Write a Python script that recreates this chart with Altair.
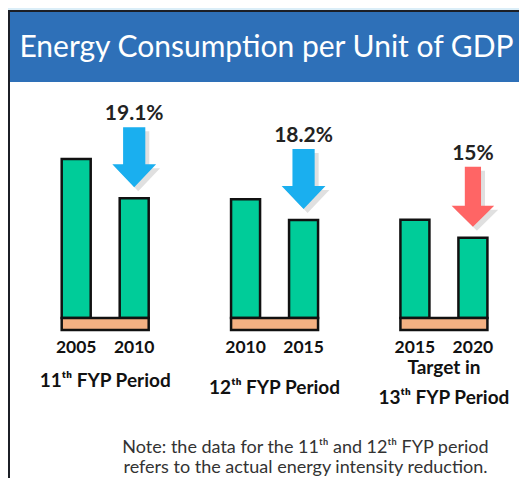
import altair as alt
import pandas as pd

# ---------------- data ----------------
periods = ["11ᵗʰ FYP Period", "12ᵗʰ FYP Period", "Target in\n13ᵗʰ FYP Period"]
years_start = ["2005", "2010", "2015"]
years_end = ["2010", "2015", "2020"]
intensity_start = [100.0, 74.7, 61.8]
intensity_end = [75.3, 61.6, 50.5]
reductions = ["19.1%", "18.2%", "15%"]
kinds = ["actual", "actual", "target"]

title_text = "Energy Consumption per Unit of GDP"
note_text = "Note: the data for the 11ᵗʰ and 12ᵗʰ FYP period\nrefers to the actual energy intensity reduction."

# ---------------- layout / style ----------------
W, H = 511, 470
GROUP_STEP = 2.92      # distance between groups, in bar-slot units
SLOT_PX = 58.0
FIRST_SLOT_PX = 68.2
ZERO_PX = 310.0
PX_PER_UNIT = 1.59
BAR_HALF = 14.5
FONT = "Lato, 'DejaVu Sans'"
PERIOD_LABEL_PX = [373.0, 379.5, 360.0]   # first-line centre of each period label

x_domain = [-FIRST_SLOT_PX / SLOT_PX, (W - FIRST_SLOT_PX) / SLOT_PX]
y_domain = [-(H - ZERO_PX) / PX_PER_UNIT, ZERO_PX / PX_PER_UNIT]
xs = alt.Scale(domain=x_domain, nice=False, zero=False)
ys = alt.Scale(domain=y_domain, nice=False, zero=False)

rows = []
for g in range(3):
    rows.append({"pos": g * GROUP_STEP, "value": intensity_start[g], "year": years_start[g], "zero": 0.0})
    rows.append({"pos": g * GROUP_STEP + 1, "value": intensity_end[g], "year": years_end[g], "zero": 0.0})
bars_df = pd.DataFrame(rows)

groups_df = pd.DataFrame({
    "pos1": [g * GROUP_STEP for g in range(3)],
    "pos2": [g * GROUP_STEP + 1 for g in range(3)],
    "center": [g * GROUP_STEP + 0.5 for g in range(3)],
    "end": intensity_end,
    "zero": [0.0, 0.0, 0.0],
    "reduction": reductions,
    "kind": kinds,
    "period": periods,
    "label_y": [(ZERO_PX - p) / PX_PER_UNIT for p in PERIOD_LABEL_PX],
})

one = pd.DataFrame({"a": [0]})


def X(f):
    return alt.X(f, scale=xs, axis=None)


def Y(f):
    return alt.Y(f, scale=ys, axis=None)


card = alt.Chart(one).mark_rect(color="#1c1f26").encode(
    x=alt.value(0), x2=alt.value(W), y=alt.value(2), y2=alt.value(H))
header = alt.Chart(one).mark_rect(color="#2E70B8").encode(
    x=alt.value(2), x2=alt.value(W), y=alt.value(4), y2=alt.value(74))
panel = alt.Chart(one).mark_rect(color="#FFFFFF").encode(
    x=alt.value(2), x2=alt.value(W), y=alt.value(74), y2=alt.value(H))
title = alt.Chart(one).mark_text(
    text=title_text, font=FONT, fontSize=30, color="white", align="center", baseline="alphabetic"
).encode(x=alt.value(258.5), y=alt.value(49))

bars = alt.Chart(bars_df).mark_bar(
    xOffset=-BAR_HALF, x2Offset=BAR_HALF, color="#00CC99", stroke="#111111", strokeWidth=2.5
).encode(x=X("pos:Q"), x2="pos:Q", y=Y("value:Q"), y2="zero:Q")

base = alt.Chart(groups_df).mark_bar(
    xOffset=-BAR_HALF, x2Offset=BAR_HALF, y2Offset=12, color="#F4B183", stroke="#111111", strokeWidth=2.5
).encode(x=X("pos1:Q"), x2="pos2:Q", y=Y("zero:Q"), y2="zero:Q")

BLUE_ARROW = "M -0.37 -1 L 0.37 -1 L 0.37 0.23 L 0.73 0.23 L 0 1 L -0.73 0.23 L -0.37 0.23 Z"
RED_ARROW = "M -0.27 -1 L 0.27 -1 L 0.27 0.3 L 0.71 0.3 L 0 1 L -0.71 0.3 L -0.27 0.3 Z"

layers_arrows = []
for kind, path, color in [("actual", BLUE_ARROW, "#1AAFEF"), ("target", RED_ARROW, "#FF6565")]:
    src = alt.Chart(groups_df).transform_filter(alt.datum.kind == kind)
    layers_arrows.append(src.mark_point(
        shape=path, size=3600, filled=True, color="#000000", opacity=0.12,
        strokeWidth=0, xOffset=4, yOffset=-37).encode(x=X("pos2:Q"), y=Y("end:Q")))
    layers_arrows.append(src.mark_point(
        shape=path, size=3600, filled=True, color=color, opacity=1,
        strokeWidth=0, yOffset=-41).encode(x=X("pos2:Q"), y=Y("end:Q")))

pct = alt.Chart(groups_df).mark_text(
    dy=-84, font=FONT, fontSize=21, fontWeight="bold", color="#222222", baseline="middle"
).encode(x=X("pos2:Q"), y=Y("end:Q"), text="reduction:N")

years = alt.Chart(bars_df).mark_text(
    dy=29.5, font=FONT, fontSize=17.5, fontWeight="bold", color="#111111", baseline="middle"
).encode(x=X("pos:Q"), y=Y("zero:Q"), text="year:N")

period_labels = alt.Chart(groups_df).mark_text(
    lineBreak="\n", lineHeight=29.5, font=FONT, fontSize=19, fontWeight="bold", color="#111111",
    baseline="middle"
).encode(x=X("center:Q"), y=Y("label_y:Q"), text="period:N")

note = alt.Chart(one).mark_text(
    text=note_text, lineBreak="\n", lineHeight=20, font=FONT, fontSize=18, color="#333333",
    align="center", baseline="middle"
).encode(x=alt.value(297.5), y=alt.value(440))

chart = alt.layer(
    card, header, panel, title, bars, base, *layers_arrows, pct, years, period_labels, note
).properties(
    width=W, height=H, autosize=alt.AutoSizeParams(type="none"), padding=0, background="#DBEEF8"
).configure_view(strokeWidth=0)

chart.save("out.html", embed_options={"renderer": "svg", "actions": False})
